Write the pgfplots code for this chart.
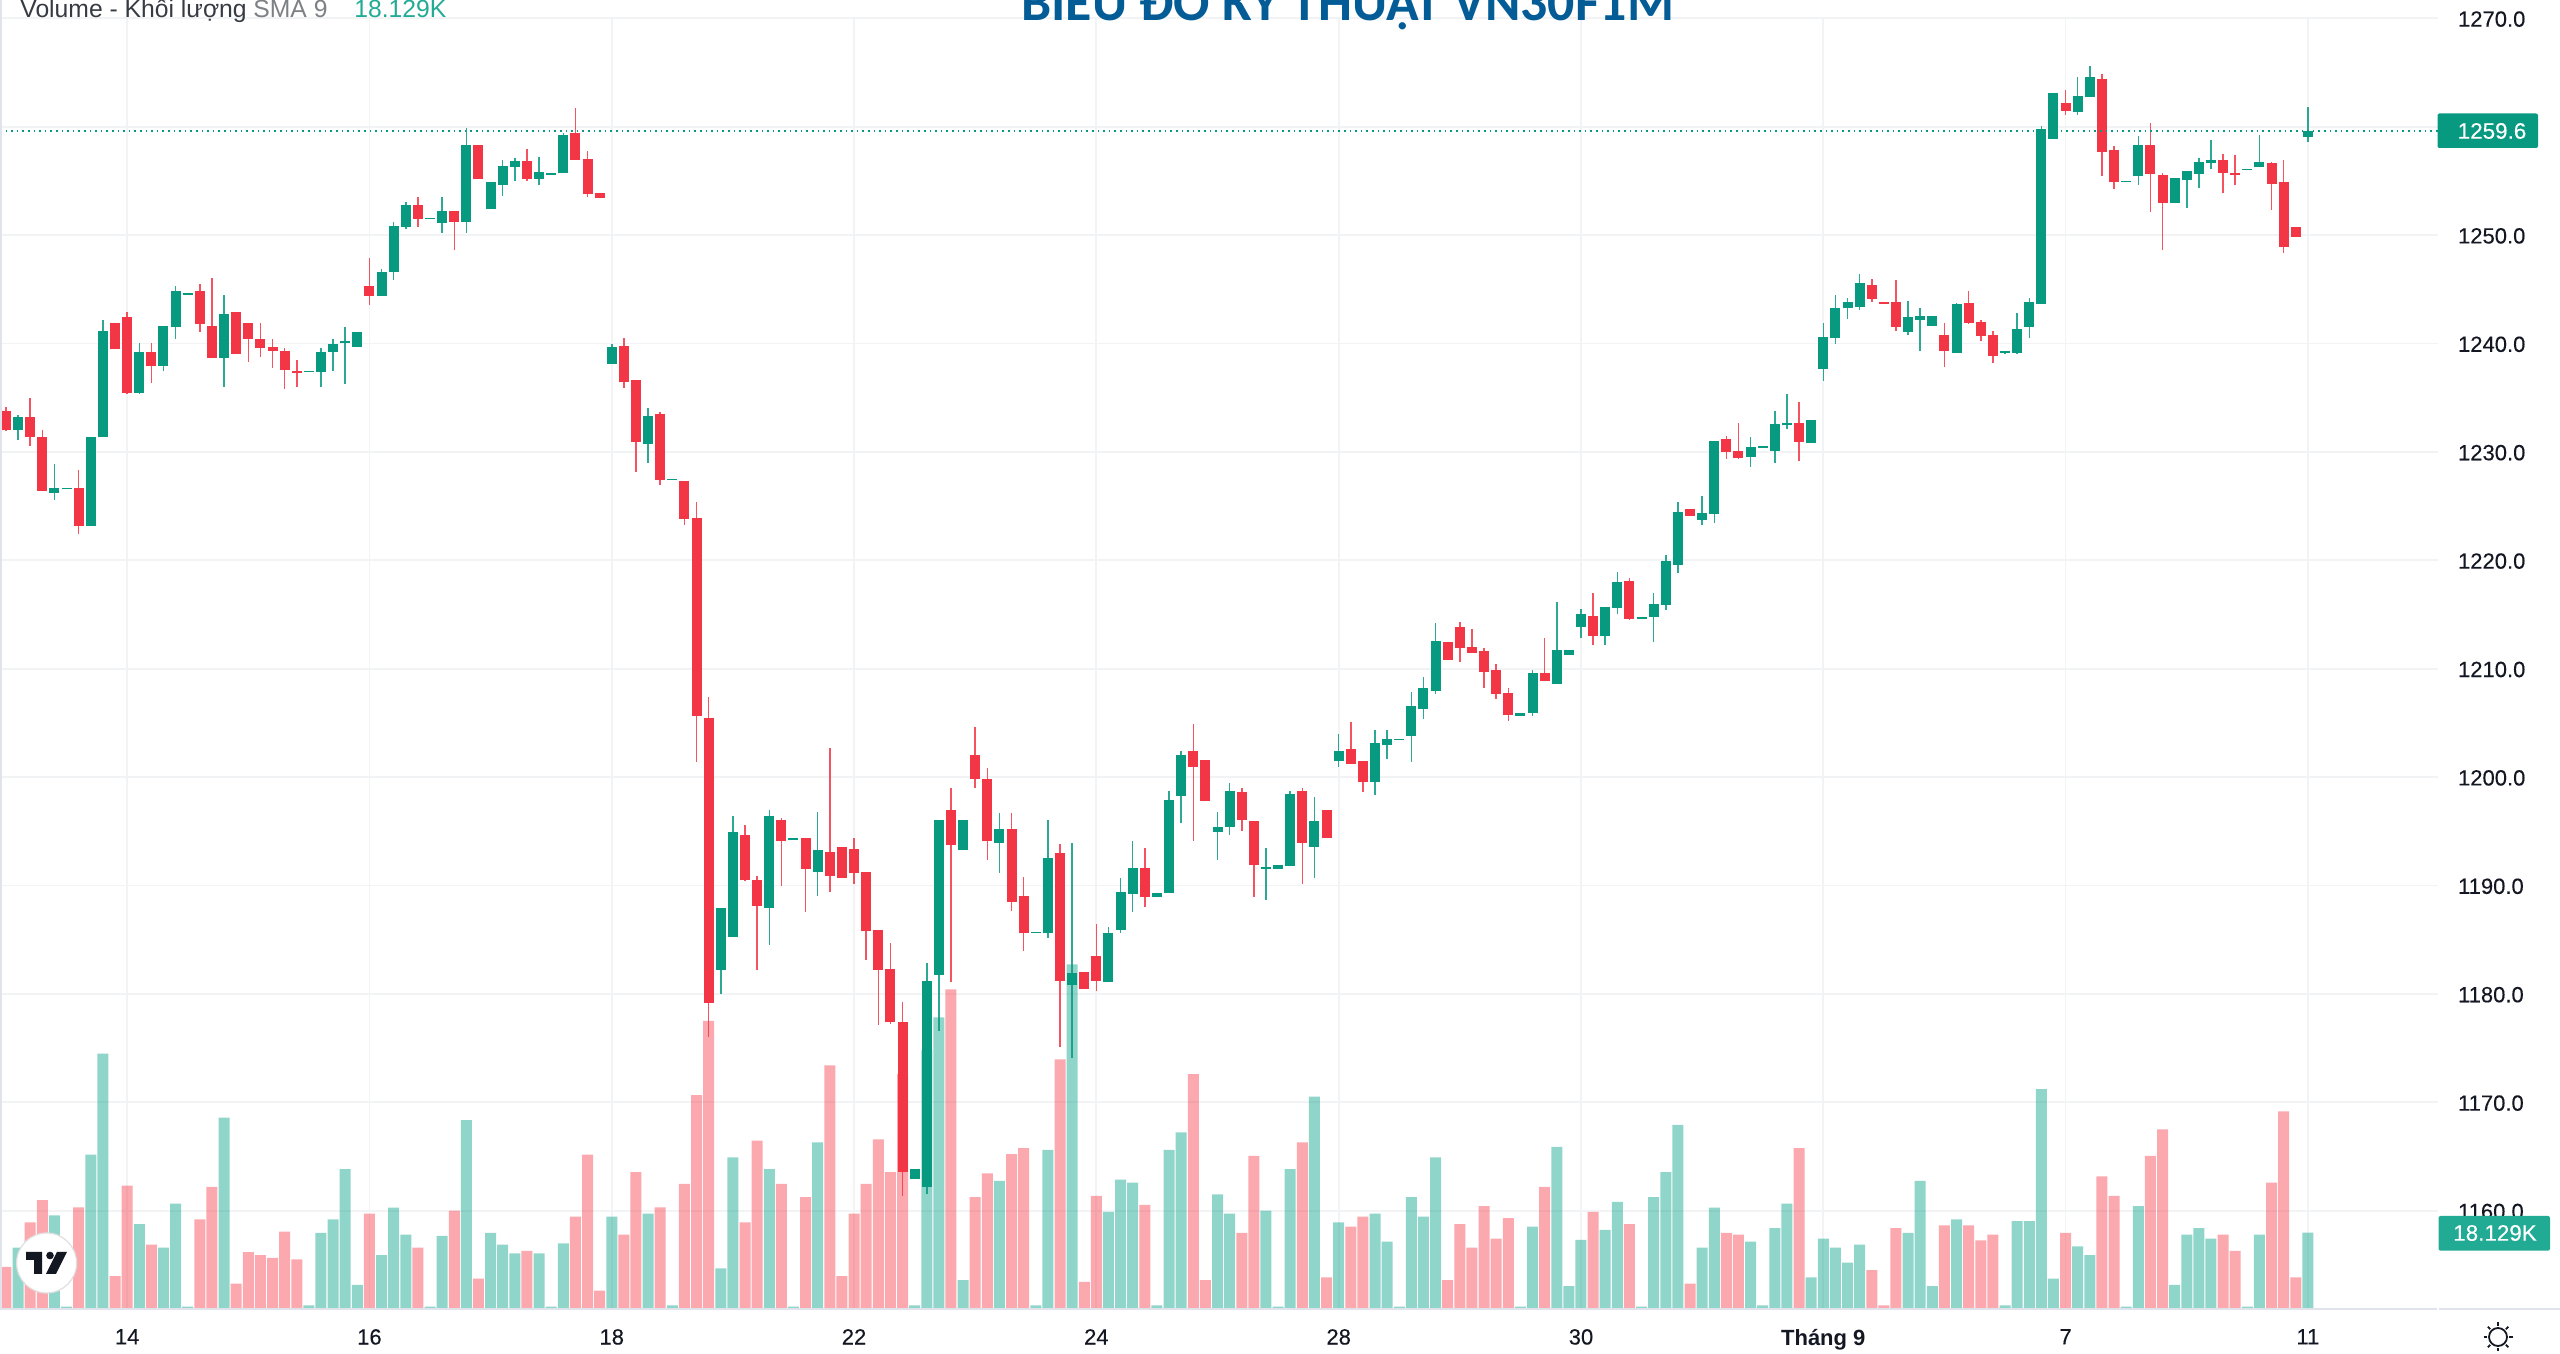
\documentclass[border=0pt]{standalone}
\usepackage{pgfplots}
\pgfplotsset{compat=1.18}
\usepackage{pgfplotstable}
\usepackage{fontspec}
\usetikzlibrary{calc}
\setmainfont{Liberation Sans}
\newfontfamily\titlefont{Carlito}
\newfontfamily\tickfont[FakeBold=0.25]{Liberation Sans}
\definecolor{upc}{HTML}{089981}
\definecolor{dnc}{HTML}{F23645}
\definecolor{upv}{HTML}{22AB94}
\definecolor{dnv}{HTML}{F7525F}
\definecolor{gridc}{HTML}{F2F3F5}
\definecolor{linec}{HTML}{E0E3EB}
\definecolor{txtc}{HTML}{131722}
\definecolor{titlec}{HTML}{035C96}
% columns: bar index, high, body top, body bottom, low, volume (K)
\pgfplotstableread{
i h t b l v
0 1234.1 1233.8 1232.0 1231.9 10.0
2 1235.0 1233.25 1231.34 1230.54 20.6
3 1232.0 1231.34 1226.42 1226.42 25.9
6 1228.33 1226.7 1223.16 1222.42 24.2
9 1241.86 1241.86 1239.46 1239.46 7.8
10 1242.94 1242.42 1235.47 1235.34 29.4
12 1240.08 1239.25 1237.93 1236.33 15.3
16 1245.46 1244.88 1241.77 1241.06 21.3
17 1246.01 1241.59 1238.63 1238.63 29.1
19 1242.94 1242.94 1239.03 1239.03 6.0
20 1241.86 1241.86 1240.42 1238.33 13.5
21 1241.86 1240.39 1239.59 1238.73 12.8
22 1240.39 1239.68 1239.31 1237.77 12.1
23 1239.56 1239.28 1237.53 1235.77 18.4
24 1238.48 1237.47 1237.25 1236.02 11.8
30 1247.92 1245.31 1244.38 1243.52 22.7
34 1253.49 1252.81 1251.49 1250.78 14.6
37 1252.26 1252.26 1251.21 1248.63 23.4
39 1258.28 1258.28 1255.18 1255.18 7.2
43 1257.91 1256.81 1255.15 1255.02 13.8
47 1261.76 1259.39 1256.93 1256.93 22.0
48 1257.76 1257.05 1253.79 1253.55 36.8
49 1253.92 1253.92 1253.39 1253.39 4.3
51 1240.48 1239.8 1236.42 1235.87 17.7
52 1236.67 1236.67 1230.95 1228.18 32.6
54 1233.65 1233.5 1227.38 1226.95 24.2
56 1227.35 1227.35 1223.81 1223.26 29.8
57 1225.41 1223.94 1205.64 1201.43 51.0
58 1207.36 1205.49 1179.19 1176.06 68.7
61 1195.58 1194.63 1190.54 1190.42 20.6
62 1190.91 1190.51 1188.11 1182.21 40.1
64 1196.26 1196.01 1194.11 1189.99 29.8
66 1194.35 1194.35 1191.49 1187.53 26.6
68 1202.72 1193.12 1190.85 1189.43 58.1
69 1193.55 1193.55 1190.66 1190.66 7.8
70 1194.35 1193.4 1191.12 1190.14 22.7
71 1191.22 1191.22 1185.77 1183.13 29.8
72 1185.87 1185.87 1182.21 1177.13 40.4
73 1184.67 1182.33 1177.38 1177.23 32.6
74 1179.29 1177.38 1163.6 1161.36 56.0
78 1199.03 1196.97 1193.71 1181.13 76.2
80 1204.65 1202.04 1199.86 1199.03 26.6
81 1200.81 1199.86 1194.11 1192.32 32.3
83 1196.72 1195.18 1188.51 1187.68 36.9
84 1190.82 1189.03 1185.59 1183.99 38.3
87 1193.83 1193.0 1181.22 1175.07 59.5
89 1182.05 1182.05 1180.42 1180.42 6.4
90 1186.42 1183.53 1181.22 1180.3 26.9
94 1193.43 1191.62 1188.91 1188.05 24.8
98 1204.93 1202.44 1200.97 1194.11 56.0
99 1201.61 1201.61 1197.8 1197.8 6.8
102 1199.02 1198.59 1196.04 1195.06 18.1
103 1195.98 1195.98 1191.92 1188.91 36.5
107 1199.02 1198.75 1193.95 1190.14 39.7
109 1196.96 1196.96 1194.35 1194.35 7.5
111 1205.05 1202.56 1201.24 1201.24 19.6
112 1201.48 1201.48 1199.58 1198.59 22.0
119 1212.43 1212.43 1210.8 1210.8 6.8
120 1214.34 1213.81 1211.91 1210.65 20.2
121 1213.66 1212.03 1211.48 1211.48 14.6
122 1211.88 1211.6 1209.69 1208.19 24.5
123 1210.4 1209.85 1207.66 1207.23 16.7
124 1208.19 1207.79 1205.76 1205.2 21.6
127 1212.86 1209.57 1208.89 1208.89 29.1
131 1216.95 1214.89 1213.01 1212.18 23.1
134 1218.33 1218.06 1214.61 1214.49 20.2
139 1224.76 1224.76 1224.08 1224.08 6.0
142 1231.46 1231.19 1229.99 1229.31 18.1
143 1232.69 1230.08 1229.4 1229.31 17.7
148 1234.63 1232.69 1230.94 1229.16 38.3
154 1245.99 1245.43 1244.08 1243.8 9.2
155 1243.8 1243.8 1243.65 1243.65 0.8
156 1245.86 1243.8 1241.5 1241.19 19.2
160 1241.87 1240.79 1239.31 1237.81 19.9
162 1244.88 1243.77 1241.87 1241.77 19.9
163 1242.14 1242.02 1240.67 1240.27 16.3
164 1241.19 1240.79 1238.88 1238.18 17.7
170 1263.39 1262.16 1261.48 1261.05 18.1
173 1264.87 1264.44 1257.67 1255.46 31.6
174 1258.25 1257.89 1254.9 1254.23 26.9
177 1260.38 1258.29 1255.61 1252.17 36.5
178 1255.7 1255.55 1253.0 1248.63 42.8
183 1257.49 1256.93 1255.73 1253.92 17.7
184 1257.36 1255.73 1255.58 1254.63 13.8
187 1256.78 1256.62 1254.75 1252.29 30.1
188 1256.93 1254.87 1248.88 1248.32 47.1
189 1250.78 1250.78 1249.83 1249.83 7.5
}\redbars
\pgfplotstableread{
i h t b l v
1 1233.4 1233.25 1232.0 1231.06 14.6
4 1228.88 1226.7 1226.18 1225.56 22.3
5 1226.7 1226.7 1226.58 1226.58 0.5
7 1231.34 1231.34 1223.16 1223.16 36.8
8 1242.17 1241.19 1231.34 1231.34 60.9
11 1240.08 1239.25 1235.47 1235.34 20.2
13 1241.59 1241.59 1237.93 1237.5 14.6
14 1245.31 1244.88 1241.49 1240.39 25.1
15 1244.63 1244.63 1244.51 1244.51 0.5
18 1244.48 1242.69 1238.63 1236.02 45.6
25 1237.5 1237.5 1237.4 1237.4 0.8
26 1239.56 1239.25 1237.4 1236.02 18.1
27 1240.39 1239.93 1239.19 1237.5 21.3
28 1241.49 1240.23 1240.02 1236.27 33.3
29 1241.03 1241.03 1239.71 1239.71 5.7
31 1246.84 1246.63 1244.38 1244.38 12.8
32 1251.21 1250.87 1246.57 1245.86 24.1
33 1253.09 1252.81 1250.78 1250.53 17.7
35 1251.58 1251.58 1251.46 1251.46 0.5
36 1253.49 1252.26 1251.09 1250.23 17.4
38 1259.85 1258.28 1251.21 1250.23 45.0
40 1254.87 1254.87 1252.44 1252.44 18.1
41 1256.93 1256.38 1254.62 1253.64 15.3
42 1257.08 1256.81 1256.28 1255.02 13.2
44 1257.24 1255.82 1255.18 1254.62 13.2
45 1255.7 1255.7 1255.58 1255.58 0.5
46 1259.39 1259.27 1255.7 1255.7 15.6
50 1239.96 1239.65 1238.11 1238.11 22.0
53 1234.08 1233.34 1230.7 1229.01 22.7
55 1227.5 1227.5 1227.38 1227.38 0.8
59 1187.93 1187.93 1182.21 1179.99 9.6
60 1196.41 1194.91 1185.22 1185.22 36.1
63 1196.97 1196.41 1187.93 1184.51 33.3
65 1194.35 1194.35 1194.23 1194.23 0.5
67 1196.81 1193.25 1191.22 1189.03 39.7
75 1163.85 1163.85 1162.9 1162.9 0.8
76 1182.88 1181.22 1162.22 1161.51 61.7
77 1196.01 1196.01 1181.78 1176.58 69.5
79 1196.01 1196.01 1193.28 1193.28 6.8
82 1196.72 1195.18 1193.95 1191.12 30.5
85 1185.74 1185.74 1185.62 1185.62 0.8
86 1196.01 1192.57 1185.59 1185.19 37.9
88 1193.95 1181.9 1180.82 1174.12 82.2
91 1186.14 1185.59 1181.1 1181.1 23.1
92 1190.66 1189.43 1185.9 1185.65 30.8
93 1194.11 1191.62 1189.22 1187.53 30.1
95 1189.31 1189.31 1188.91 1188.91 0.8
96 1198.75 1197.92 1189.34 1189.34 37.9
97 1202.44 1202.04 1198.23 1195.74 42.1
100 1196.81 1195.43 1194.93 1192.35 27.3
101 1199.42 1198.75 1195.36 1194.66 22.7
104 1193.43 1191.73 1191.52 1188.66 23.4
105 1191.89 1191.89 1191.52 1191.52 0.5
106 1198.75 1198.47 1191.77 1191.77 33.3
108 1198.19 1195.98 1193.55 1190.66 50.6
110 1203.94 1202.44 1201.51 1200.96 20.6
113 1204.34 1203.11 1199.58 1198.35 22.7
114 1204.34 1203.51 1202.99 1201.64 16.0
115 1203.5 1203.5 1203.4 1203.4 0.5
116 1207.88 1206.53 1203.82 1201.36 26.6
117 1209.26 1208.19 1206.28 1205.33 22.0
118 1214.21 1212.58 1207.91 1207.66 36.1
125 1205.88 1205.88 1205.6 1205.6 0.5
126 1209.85 1209.57 1205.88 1205.6 19.6
128 1216.12 1211.75 1208.62 1208.62 38.6
129 1211.75 1211.75 1211.23 1211.23 5.4
130 1215.47 1215.01 1213.81 1212.86 16.4
132 1215.72 1215.72 1213.01 1212.18 18.8
133 1218.89 1218.03 1215.57 1215.04 25.5
135 1214.74 1214.74 1214.61 1214.61 0.5
136 1216.95 1215.97 1214.8 1212.43 26.6
137 1220.49 1219.93 1215.87 1215.44 32.6
138 1225.41 1224.45 1219.56 1218.86 43.9
140 1225.96 1224.33 1223.68 1223.25 14.6
141 1231.03 1231.03 1224.24 1223.41 24.1
144 1231.34 1230.48 1229.56 1228.6 16.0
145 1230.5 1230.5 1230.39 1230.39 0.8
146 1233.8 1232.54 1230.11 1229.0 19.2
147 1235.31 1232.69 1232.45 1232.14 25.1
149 1232.97 1232.97 1230.79 1230.79 7.5
150 1241.87 1240.63 1237.65 1236.58 16.7
151 1244.48 1243.25 1240.54 1239.99 14.6
152 1244.23 1243.8 1243.25 1242.3 11.0
153 1246.42 1245.55 1243.4 1243.09 15.3
157 1243.96 1242.42 1241.07 1240.79 18.1
158 1243.25 1242.57 1242.17 1239.31 30.5
159 1242.57 1242.57 1241.62 1241.62 5.4
161 1243.77 1243.65 1239.16 1239.16 21.3
165 1239.28 1239.28 1239.16 1239.01 0.8
166 1242.85 1241.31 1239.16 1239.03 20.9
167 1244.23 1243.8 1241.5 1240.54 20.9
168 1260.07 1259.79 1243.65 1243.65 52.4
169 1263.08 1263.08 1258.87 1258.87 7.2
171 1264.62 1262.81 1261.33 1261.05 14.9
172 1265.6 1264.59 1262.71 1262.71 12.8
175 1255.03 1255.03 1254.9 1254.9 0.5
176 1259.15 1258.29 1255.46 1254.63 24.5
179 1255.27 1255.27 1253.0 1253.0 5.7
180 1255.95 1255.95 1255.06 1252.47 17.7
181 1257.09 1256.78 1255.61 1254.35 19.2
182 1258.75 1256.93 1256.69 1256.13 16.7
185 1256.13 1256.13 1256.01 1256.01 0.5
186 1259.27 1256.78 1256.29 1256.29 17.7
190 1261.85 1259.61 1259.02 1258.59 18.129
}\greenbars
\pgfplotsset{
  pane/.style={
    scale only axis, width=1219pt, height=645.2pt,
    at={(0pt,22.65pt)}, anchor=south west,
    xmin=-0.495, xmax=200.74,
  },
  wick/.style={draw=none, forget plot,
    error bars/.cd, y dir=both, y explicit, error mark=none,
    error bar style={draw=#1, line width=0.75pt, opacity=0.85}},
  body/.style={draw=none, forget plot,
    error bars/.cd, y dir=plus, y explicit, error mark=none,
    error bar style={draw=#1, line width=5pt}},
}
\begin{document}
\begin{tikzpicture}
\useasboundingbox (0,0) rectangle (1280pt,677pt);
\clip (0,0) rectangle (1280pt,677pt);
% grid, scales
\begin{axis}[pane,
  ymin=1150.96, ymax=1270,
  xtick={10,30,50,70,90,110,130,150,170,190},
  xticklabels={14,16,18,22,24,28,30,{\normalfont\bfseries Tháng 9},7,11},
  ytick={1160,1170,1180,1190,1200,1210,1220,1230,1240,1250,1260,1270},
  yticklabel pos=right,
  major tick length=0pt,
  grid=major, grid style={draw=gridc, line width=0.9pt},
  axis line style={draw=none},
  tick label style={font=\tickfont\fontsize{11}{13}\selectfont, text=txtc},
  xticklabel style={yshift=-6.7pt},
  yticklabel style={yshift=-0.4pt, /pgf/number format/.cd, fixed, fixed zerofill, precision=1, 1000 sep={}, assume math mode=true},
  yticklabel shift=6.5pt,
]
\end{axis}
% volume
\begin{axis}[pane, hide axis, ymin=0, ymax=307.97]
\addplot[ybar, bar width=5.5pt, bar shift=0pt, draw=none, fill=dnv, fill opacity=0.5, forget plot] table[x=i,y=v] {\redbars};
\addplot[ybar, bar width=5.5pt, bar shift=0pt, draw=none, fill=upv, fill opacity=0.5, forget plot] table[x=i,y=v] {\greenbars};
\end{axis}
% candles
\begin{axis}[pane, hide axis, ymin=1150.96, ymax=1270]
\addplot[wick=dnc] table[x=i, y=b, y error plus expr=\thisrow{h}-\thisrow{b}, y error minus expr=\thisrow{b}-\thisrow{l}] {\redbars};
\addplot[wick=upc] table[x=i, y=b, y error plus expr=\thisrow{h}-\thisrow{b}, y error minus expr=\thisrow{b}-\thisrow{l}] {\greenbars};
\addplot[body=dnc] table[x=i, y=b, y error plus expr=\thisrow{t}-\thisrow{b}] {\redbars};
\addplot[body=upc] table[x=i, y=b, y error plus expr=\thisrow{t}-\thisrow{b}] {\greenbars};
\addplot[upc, line width=0.8pt, dotted, forget plot, clip=false] coordinates {(-0.495,1259.6) (200.74,1259.6)};
\end{axis}
\begin{scope}[x=0.5pt,y=-0.5pt,yshift=677pt]
  % frame
  \draw[linec, line width=0.9pt] (0,1308.7) -- (2437,1308.7);
  \draw[linec, line width=0.9pt] (2439,1308.7) -- (2560,1308.7);
  \draw[linec, line width=0.9pt] (1,0) -- (1,1308.7);
  % title and legend
  \node[anchor=base west, inner sep=0pt, text=titlec] at (1021,20.7) {\titlefont\bfseries\fontsize{26.9}{30}\selectfont BIỂU ĐỒ KỸ THUẬT VN30F1M};
  \node[anchor=base west, inner sep=0pt, text=txtc!85] at (20,18) {\fontsize{12.35}{14}\selectfont Volume - Khối lượng};
  \node[anchor=base west, inner sep=0pt, text=txtc!55] at (253,18) {\fontsize{12.35}{14}\selectfont SMA 9};
  \node[anchor=base west, inner sep=0pt, text=upv] at (354,18) {\fontsize{12.35}{14}\selectfont 18.129K};
  % price tags
  \fill[upc, rounded corners=1pt] (2437.5,113.5) rectangle (2538,148);
  \node[text=white, inner sep=0pt] at (2492,131) {\tickfont\fontsize{11.2}{13}\selectfont 1259.6};
  \fill[upv, rounded corners=1pt] (2438.5,1216) rectangle (2550,1250.7);
  \node[text=white, inner sep=0pt] at (2495,1233) {\tickfont\fontsize{11.2}{13}\selectfont 18.129K};
  % logo
  \fill[white] (46.6,1263) circle (30);
  \draw[black!12, line width=0.6pt] (46.6,1263) circle (30);
  \fill[txtc] (26,1252) -- (42,1252) -- (42,1274) -- (34,1274) -- (34,1260) -- (26,1260) -- cycle;
  \fill[txtc] (50,1255.5) circle (3.8);
  \fill[txtc] (57,1252) -- (67,1252) -- (56,1274) -- (46,1274) -- cycle;
  % settings icon
  \draw[txtc, line width=0.9pt] (2498,1337) circle (9);
  \foreach \a in {0,45,...,315} {
    \draw[txtc, line width=0.9pt] ($(2498,1337)+(\a:11)$) -- ($(2498,1337)+(\a:14.5)$);
  }
\end{scope}
\end{tikzpicture}
\end{document}
